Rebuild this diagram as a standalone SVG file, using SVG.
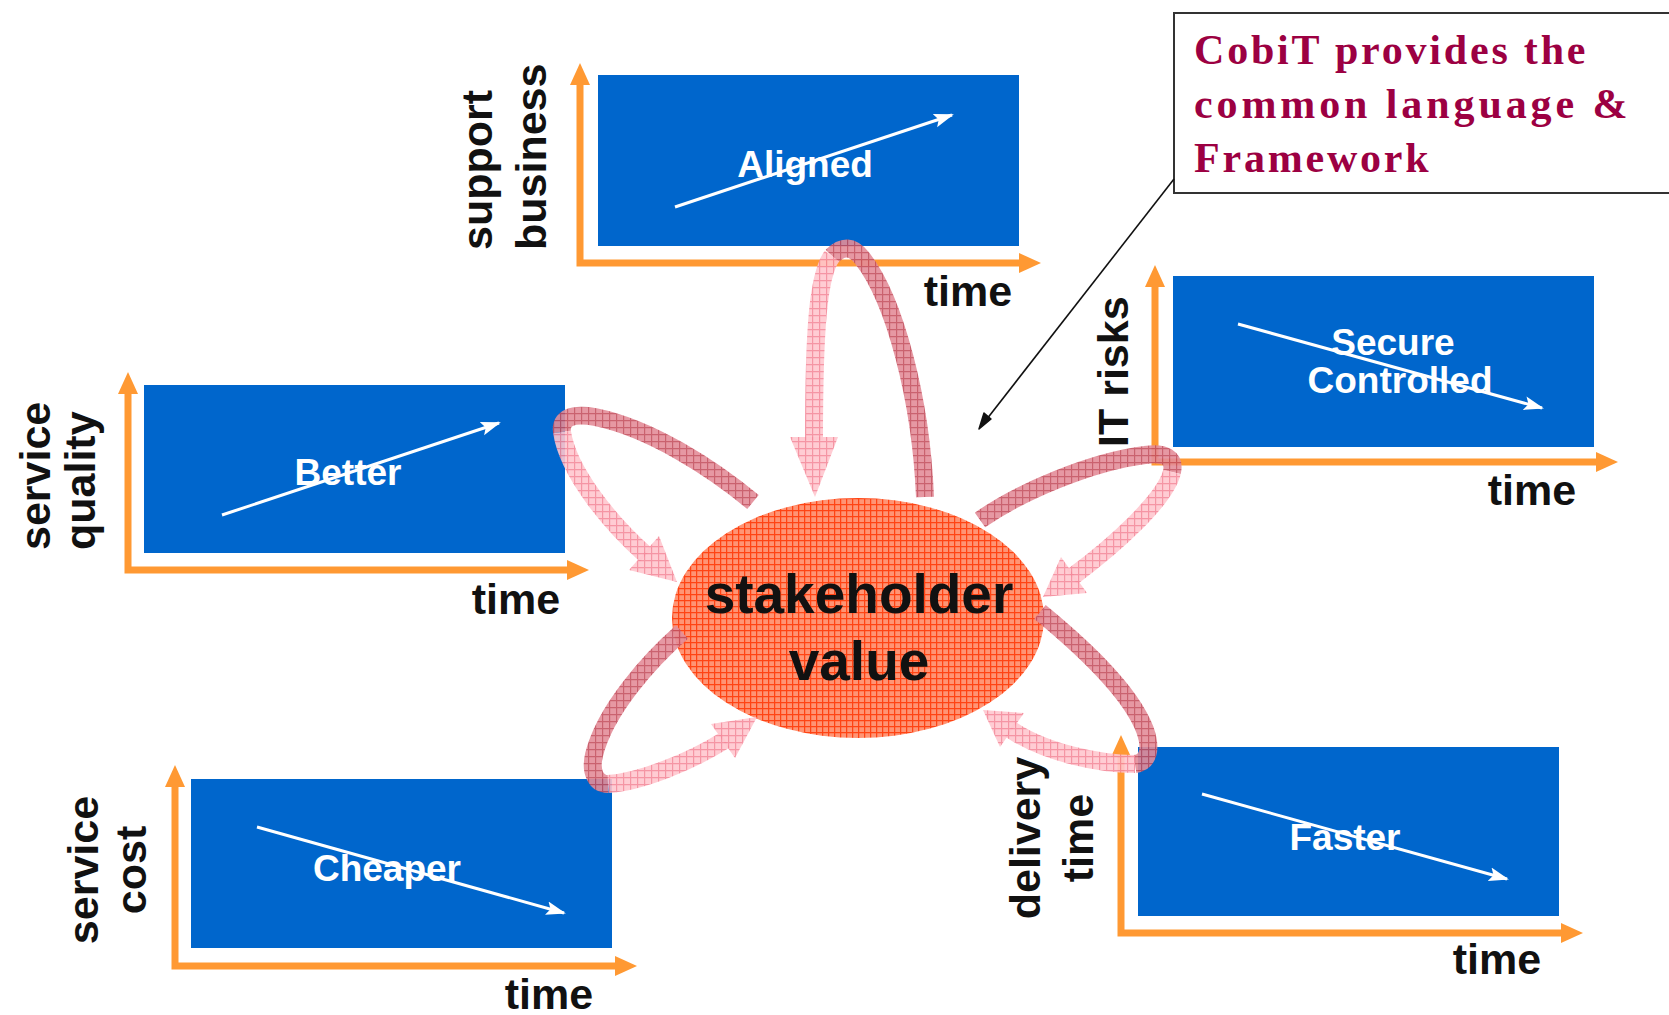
<svg xmlns="http://www.w3.org/2000/svg" width="1669" height="1015" viewBox="0 0 1669 1015">
  <style>
    .panel { fill: #0066cc; }
    .axis { fill: none; stroke: #ff9933; stroke-width: 7; stroke-linejoin: miter; marker-start: url(#axisHead); marker-end: url(#axisHead); }
    .trend { fill: none; stroke: #ffffff; stroke-width: 3; marker-end: url(#trendHead); }
    .inner { font-family: "Liberation Sans", Arial, sans-serif; font-weight: bold; font-size: 37px; fill: #ffffff; text-anchor: middle; }
    .lbl { font-family: "Liberation Sans", Arial, sans-serif; font-weight: bold; font-size: 43px; fill: #111111; }
    .mid { text-anchor: middle; }
    .center { font-family: "Liberation Sans", Arial, sans-serif; font-weight: bold; font-size: 55px; fill: #111111; text-anchor: middle; }
    .note { font-family: "Liberation Serif", "Times New Roman", serif; font-weight: bold; font-size: 42px; fill: #9c0042; letter-spacing: 2.8px; }
    .back { fill: none; stroke: url(#darkGrid); stroke-width: 18; stroke-linecap: butt; opacity: 0.9; }
    .front { fill: none; stroke: url(#lightGrid); stroke-width: 18; stroke-linecap: butt; opacity: 0.9; }
    .head { fill: url(#lightGrid); opacity: 0.9; }
  </style>
  <defs>
    <marker id="axisHead" markerUnits="userSpaceOnUse" markerWidth="22" markerHeight="20" refX="0" refY="10" orient="auto-start-reverse">
      <path d="M0,0 L22,10 L0,20 Z" fill="#ff9933"/>
    </marker>
    <marker id="trendHead" markerUnits="userSpaceOnUse" markerWidth="20" markerHeight="16" refX="18" refY="8" orient="auto">
      <path d="M0,1 L20,8 L0,15 L4,8 Z" fill="#ffffff"/>
    </marker>
    <pattern id="valueGrid" patternUnits="userSpaceOnUse" width="6" height="6">
      <rect width="6" height="6" fill="#ff9474"/>
      <path d="M0,0.5 H6 M0.5,0 V6" stroke="#ff4414" stroke-width="1.5"/>
    </pattern>
    <pattern id="darkGrid" patternUnits="userSpaceOnUse" width="7" height="7">
      <rect width="7" height="7" fill="#e38d99"/>
      <path d="M0,0.5 H7 M0.5,0 V7" stroke="#c4505f" stroke-width="1.4"/>
    </pattern>
    <pattern id="lightGrid" patternUnits="userSpaceOnUse" width="7" height="7">
      <rect width="7" height="7" fill="#ffc6ce"/>
      <path d="M0,0.5 H7 M0.5,0 V7" stroke="#f4899a" stroke-width="1.4"/>
    </pattern>
  </defs>

  <rect width="1669" height="1015" fill="#ffffff"/>

  <!-- chart: support business / Aligned -->
  <g id="panel-aligned">
    <rect class="panel" x="598" y="75" width="421" height="171"/>
    <path class="axis" d="M580,85 V263 H1019"/>
    <line class="trend" x1="675" y1="207" x2="952" y2="115"/>
    <text class="inner" x="805" y="177">Aligned</text>
    <text class="lbl" transform="translate(492,250) rotate(-90)">support</text>
    <text class="lbl" transform="translate(546,250) rotate(-90)">business</text>
    <text class="lbl mid" x="968" y="306">time</text>
  </g>

  <!-- chart: service quality / Better -->
  <g id="panel-better">
    <rect class="panel" x="144" y="385" width="421" height="168"/>
    <path class="axis" d="M128,394 V570 H567"/>
    <line class="trend" x1="222" y1="515" x2="499" y2="423"/>
    <text class="inner" x="348" y="485">Better</text>
    <text class="lbl" transform="translate(50,550) rotate(-90)">service</text>
    <text class="lbl" transform="translate(95,550) rotate(-90)">quality</text>
    <text class="lbl mid" x="516" y="614">time</text>
  </g>

  <!-- chart: service cost / Cheaper -->
  <g id="panel-cheaper">
    <rect class="panel" x="191" y="779" width="421" height="169"/>
    <path class="axis" d="M175,787 V966 H615"/>
    <line class="trend" x1="257" y1="827" x2="564" y2="913"/>
    <text class="inner" x="387" y="881">Cheaper</text>
    <text class="lbl mid" transform="translate(98,870) rotate(-90)">service</text>
    <text class="lbl mid" transform="translate(146,870) rotate(-90)">cost</text>
    <text class="lbl mid" x="549" y="1009">time</text>
  </g>

  <!-- chart: IT risks / Secure Controlled -->
  <g id="panel-secure">
    <rect class="panel" x="1173" y="276" width="421" height="171"/>
    <path class="axis" d="M1155,287 V462 H1596"/>
    <line class="trend" x1="1238" y1="324" x2="1542" y2="408"/>
    <text class="inner" x="1393" y="355">Secure</text>
    <text class="inner" x="1400" y="393">Controlled</text>
    <text class="lbl" transform="translate(1128,447) rotate(-90)">IT risks</text>
    <text class="lbl mid" x="1532" y="505">time</text>
  </g>

  <!-- chart: delivery time / Faster -->
  <g id="panel-faster">
    <rect class="panel" x="1138" y="747" width="421" height="169"/>
    <path class="axis" d="M1121,757 V933 H1561"/>
    <line class="trend" x1="1202" y1="794" x2="1507" y2="879"/>
    <text class="inner" x="1345" y="850">Faster</text>
    <text class="lbl mid" transform="translate(1040,838) rotate(-90)">delivery</text>
    <text class="lbl mid" transform="translate(1093,838) rotate(-90)">time</text>
    <text class="lbl mid" x="1497" y="974">time</text>
  </g>

  <!-- central node -->
  <g id="stakeholder-value">
    <ellipse cx="858" cy="618" rx="186" ry="120" fill="url(#valueGrid)"/>
    <text class="center" x="859" y="613">stakeholder</text>
    <text class="center" x="859" y="680">value</text>
  </g>

  <!-- callout -->
  <g id="cobit-note">
    <rect x="1174" y="13" width="520" height="180" fill="#ffffff" stroke="#333333" stroke-width="2"/>
    <text class="note" x="1194" y="64">CobiT provides the</text>
    <text class="note" x="1194" y="118" style="letter-spacing:3.9px">common language &amp;</text>
    <text class="note" x="1194" y="172">Framework</text>
  </g>

  <!-- connectors: feedback loops between the charts and the central node -->
  <g id="connectors">
    <!-- loop to Aligned -->
    <path class="back" d="M925,497 C921,400 895,300 862,258 Q848,240 832,256"/>
    <path class="front" d="M832,256 C818,275 814,330 814,440"/>
    <polygon class="head" points="790,437 838,437 815,497"/>

    <!-- loop to Better -->
    <path class="back" d="M753,502 C712,468 650,428 595,417 C572,413 560,418 562,432"/>
    <path class="front" d="M562,432 C568,472 610,523 646,555"/>
    <polygon class="head" points="659,536 629,570 677,582"/>

    <!-- loop to Secure -->
    <path class="back" d="M980,520 C1020,492 1090,462 1145,455 C1165,452 1175,458 1172,472"/>
    <path class="front" d="M1172,472 C1165,500 1115,545 1072,577"/>
    <polygon class="head" points="1061,557 1087,593 1043,597"/>

    <!-- loop to Cheaper -->
    <path class="back" d="M682,632 C650,660 605,710 594,755 C590,772 596,784 608,784"/>
    <path class="front" d="M608,784 C640,782 690,762 725,740"/>
    <polygon class="head" points="711,724 735,758 757,717"/>

    <!-- loop to Faster -->
    <path class="back" d="M1040,612 C1080,645 1130,690 1145,730 C1152,750 1148,762 1135,764"/>
    <path class="front" d="M1135,764 C1100,764 1045,753 1010,729"/>
    <polygon class="head" points="1024,713 1000,747 983,710"/>

    <!-- callout pointer -->
    <line x1="1174" y1="179" x2="983" y2="424" stroke="#111111" stroke-width="1.6"/>
    <path d="M979,429 L984,413 L991,419 Z" fill="#111111" stroke="#111111" stroke-width="1.5" stroke-linejoin="round"/>
  </g>
</svg>
